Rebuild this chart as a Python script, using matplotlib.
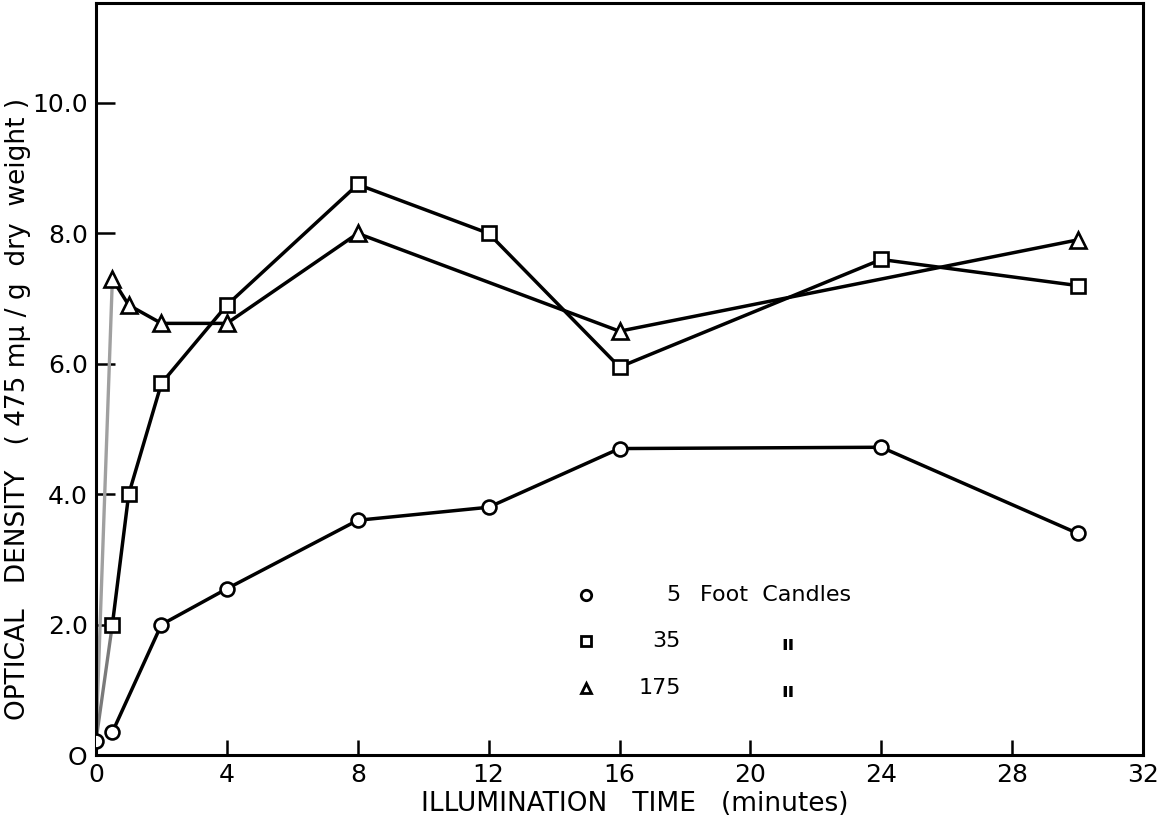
import matplotlib
matplotlib.use("Agg")
import matplotlib.pyplot as plt

# ---- data ----
time_circle = [0, 0.5, 2, 4, 8, 12, 16, 24, 30]
od_5fc = [0.22, 0.35, 2.0, 2.55, 3.6, 3.8, 4.7, 4.72, 3.4]

time_square = [0, 0.5, 1, 2, 4, 8, 12, 16, 24, 30]
od_35fc = [0.22, 2.0, 4.0, 5.7, 6.9, 8.75, 8.0, 5.95, 7.6, 7.2]

time_triangle = [0, 0.5, 1, 2, 4, 8, 16, 30]
od_175fc = [0.22, 7.3, 6.9, 6.62, 6.62, 8.0, 6.5, 7.9]

x_ticks = [0, 4, 8, 12, 16, 20, 24, 28, 32]
x_ticklabels = ["0", "4", "8", "12", "16", "20", "24", "28", "32"]
y_ticks = [0, 2, 4, 6, 8, 10]
y_ticklabels = ["O", "2.0", "4.0", "6.0", "8.0", "10.0"]

legend_numbers = ["5", "35", "175"]
legend_unit = "Foot  Candles"
legend_ditto = "ıı"

x_label = "ILLUMINATION   TIME   (minutes)"
y_label = "OPTICAL   DENSITY   ( 475 m\u03bc / g  dry  weight )"

plt.rcParams['font.family'] = ['DejaVu Sans']

W, H = 1165, 821
fig = plt.figure(figsize=(W / 100, H / 100), dpi=100)
ax_l, ax_r, ax_b, ax_t = 96, 1143, 755, 3
ax = fig.add_axes([ax_l / W, (H - ax_b) / H, (ax_r - ax_l) / W, (ax_b - ax_t) / H])
ax.set_xlim(0, 32)
ax.set_ylim(0, (ax_b - ax_t) / 65.2)

lw = 2.5
mew = 1.9
ms = 10

# grey initial segments from the t=0 point
ax.plot(time_triangle[:2], od_175fc[:2], color="#a0a0a0", lw=2.4, zorder=2)
ax.plot(time_square[:2], od_35fc[:2], color="#7a7a7a", lw=2.4, zorder=2)

ax.plot(time_triangle[1:], od_175fc[1:], color="black", lw=lw, marker="^",
        ms=ms + 1, mfc="white", mec="black", mew=mew, zorder=3)
ax.plot(time_square[1:], od_35fc[1:], color="black", lw=lw, marker="s",
        ms=ms, mfc="white", mec="black", mew=mew, zorder=4)
ax.plot(time_circle[1:], od_5fc[1:], color="black", lw=lw, marker="o",
        ms=ms, mfc="white", mec="black", mew=mew, zorder=4)
ax.plot(time_circle[:1], od_5fc[:1], color="black", lw=0, marker="o",
        ms=ms, mfc="white", mec="black", mew=mew, zorder=5)

for s in ax.spines.values():
    s.set_linewidth(2.2)

ax.set_xticks(x_ticks)
ax.set_xticklabels(x_ticklabels, fontsize=18)
ax.set_yticks(y_ticks)
ax.set_yticklabels(y_ticklabels, fontsize=18)
ax.tick_params(axis="x", direction="in", length=11, width=1.8, pad=6)
ax.tick_params(axis="y", direction="in", length=14, width=1.8, pad=6)

ax.set_xlabel(x_label, fontsize=19)
ax.set_ylabel(y_label, fontsize=19)
ax.yaxis.set_label_coords(-0.062, 0.46)
ax.xaxis.set_label_coords(0.515, -0.048)

# legend drawn as text
axw, axh = ax_r - ax_l, ax_b - ax_t
def axx(px):
    return (px - ax_l) / axw
def axy(py):
    return (ax_b - py) / axh

rows_y = [595, 641, 688]
markers = ["o", "s", "^"]
for i, (mk, yy) in enumerate(zip(markers, rows_y)):
    ax.plot([axx(586)], [axy(yy)], marker=mk, ms=7.5, mfc="white", mec="black",
            mew=2.0, lw=0, transform=ax.transAxes, clip_on=False)
    ax.text(axx(681), axy(yy), legend_numbers[i], transform=ax.transAxes,
            ha="right", va="center", fontsize=16)
    if i == 0:
        ax.text(axx(700), axy(yy), legend_unit, transform=ax.transAxes,
                ha="left", va="center", fontsize=16)
    else:
        ax.text(axx(788), axy(yy) - 0.004, legend_ditto, transform=ax.transAxes,
                ha="center", va="center", fontsize=14, fontweight="bold")

fig.savefig("out.png", dpi=100)
